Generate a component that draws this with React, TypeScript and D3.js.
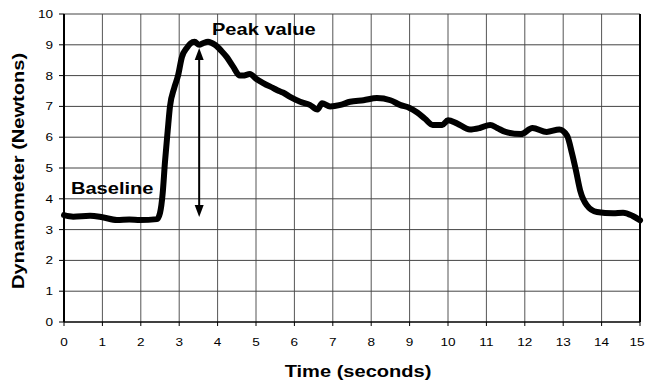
import * as React from "react";
import * as d3 from "d3";

// dynamometer trace
const timeSec = [0, 0.24, 0.68, 1.0, 1.38, 1.7, 1.98, 2.42, 2.5, 2.57, 2.63, 2.7, 2.76, 2.87, 2.97, 3.07, 3.2, 3.3, 3.4, 3.52, 3.62, 3.75, 3.93, 4.1, 4.24, 4.4, 4.58, 4.66, 4.84, 5.0, 5.2, 5.44, 5.6, 5.7, 5.9, 6.15, 6.4, 6.6, 6.72, 6.93, 7.2, 7.45, 7.8, 8.15, 8.5, 8.75, 9.0, 9.2, 9.4, 9.6, 9.85, 10.0, 10.23, 10.57, 10.83, 11.1, 11.28, 11.5, 11.9, 12.2, 12.57, 12.9, 13.1, 13.23, 13.33, 13.44, 13.61, 13.88, 14.3, 14.56, 14.8, 15];
const forceN = [3.47, 3.42, 3.45, 3.4, 3.31, 3.33, 3.31, 3.34, 3.54, 4.18, 5.2, 6.2, 7.0, 7.6, 8.0, 8.6, 8.9, 9.05, 9.1, 9.0, 9.05, 9.1, 9.0, 8.8, 8.6, 8.3, 8.0, 8.0, 8.05, 7.9, 7.75, 7.6, 7.5, 7.45, 7.3, 7.15, 7.05, 6.9, 7.1, 7.0, 7.05, 7.15, 7.2, 7.27, 7.2, 7.05, 6.95, 6.8, 6.6, 6.4, 6.4, 6.55, 6.45, 6.25, 6.3, 6.4, 6.3, 6.17, 6.1, 6.3, 6.17, 6.25, 6.05, 5.47, 4.93, 4.28, 3.8, 3.57, 3.53, 3.55, 3.45, 3.3];

const xTicks = d3.range(0, 16);
const yTicks = d3.range(0, 11);

// double arrow from peak down to baseline
const arrowTime = 3.52;
const arrowTop = 8.9;
const arrowBottom = 3.41;

const peakLabel = "Peak value";
const baselineLabel = "Baseline";
const xTitle = "Time (seconds)";
const yTitle = "Dynamometer (Newtons)";

const W = 646, H = 387;
const margin = { left: 64, right: 6, top: 14, bottom: 65 };
const SX = 1.18; // scan is a bit wider than tall
const FONT = "'Liberation Sans', Arial, sans-serif";

const T = (p: { x: number, y: number, size: number, bold?: boolean, anchor?: string, rotate?: number, children: string }) =>
    <text transform={`translate(${p.x},${p.y}) rotate(${p.rotate || 0}) scale(${SX},1)`}
        fontFamily={FONT} fontSize={p.size} fontWeight={p.bold ? "bold" : "normal"}
        textAnchor={p.anchor || "start"} fill="#000">{p.children}</text>;

export default function App() {
    const x = d3.scaleLinear().domain([0, 15]).range([margin.left, W - margin.right]);
    const y = d3.scaleLinear().domain([0, 10]).range([H - margin.bottom, margin.top]);

    const data = timeSec.map<[number, number]>((t, i) => [t, forceN[i]]);
    const line = d3.line<[number, number]>()
        .x(d => x(d[0]))
        .y(d => y(d[1]))
        .curve(d3.curveMonotoneX);

    const ax = x(arrowTime);
    const aTop = y(arrowTop), aBot = y(arrowBottom);

    return <svg width={W} height={H} style={{ position: "absolute", left: 0, top: 0, background: "#fff" }}>
        <rect width={W} height={H} fill="#fff" />
        {/* grid */}
        {xTicks.slice(1, -1).map(t => <line key={"gx" + t} x1={x(t)} x2={x(t)} y1={y(0)} y2={y(10)} stroke="#555" strokeWidth={1} />)}
        {yTicks.slice(1).map(t => <line key={"gy" + t} x1={x(0)} x2={x(15)} y1={y(t)} y2={y(t)} stroke="#444" strokeWidth={1} />)}
        {/* frame */}
        <line x1={x(0)} x2={x(0)} y1={y(0)} y2={y(10)} stroke="#000" strokeWidth={2} />
        <line x1={x(15)} x2={x(15)} y1={y(0)} y2={y(10)} stroke="#000" strokeWidth={2} />
        <line x1={x(0)} x2={x(15)} y1={y(0)} y2={y(0)} stroke="#000" strokeWidth={1.5} />
        {/* ticks */}
        {yTicks.map(t => <line key={"ty" + t} x1={x(0) - 5} x2={x(0)} y1={y(t)} y2={y(t)} stroke="#000" />)}
        {xTicks.map(t => <line key={"tx" + t} x1={x(t)} x2={x(t)} y1={y(0)} y2={y(0) + 4} stroke="#000" />)}
        {yTicks.map(t => <T key={"ly" + t} x={x(0) - 11} y={y(t) + 4} size={11.5} anchor="end">{String(t)}</T>)}
        {xTicks.map(t => <T key={"lx" + t} x={Math.min(x(t), W - 9)} y={y(0) + 24} size={11.5} anchor="middle">{String(t)}</T>)}
        {/* trace */}
        <path d={line(data) || ""} fill="none" stroke="#000" strokeWidth={6} strokeLinejoin="round" strokeLinecap="round" />
        {/* arrow */}
        <line x1={ax} x2={ax} y1={aTop + 10} y2={aBot - 10} stroke="#000" strokeWidth={2} />
        <path d={`M${ax},${aTop} L${ax - 4.5},${aTop + 12} L${ax + 4.5},${aTop + 12} Z`} fill="#000" />
        <path d={`M${ax},${aBot} L${ax - 4.5},${aBot - 12} L${ax + 4.5},${aBot - 12} Z`} fill="#000" />
        {/* labels */}
        <T x={212} y={35} size={17} bold>{peakLabel}</T>
        <T x={71} y={194} size={17} bold>{baselineLabel}</T>
        <T x={358} y={377} size={17} bold anchor="middle">{xTitle}</T>
        <T x={24} y={171} size={17} bold anchor="middle" rotate={-90}>{yTitle}</T>
    </svg>;
}
